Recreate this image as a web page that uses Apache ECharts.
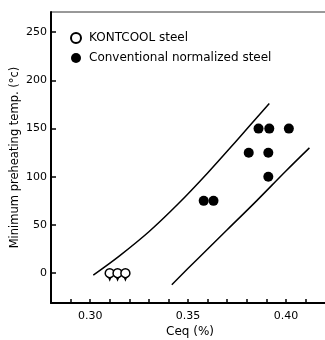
<!DOCTYPE html>
<html>
<head>
<meta charset="utf-8">
<script src="https://cdn.jsdelivr.net/npm/echarts@6/dist/echarts.min.js"></script>
<style>
html,body{margin:0;padding:0;background:#fff;}
#chart{width:325px;height:340px;}
</style>
</head>
<body>
<div id="chart"></div>
<script>
// ---- data ----
var kontcoolX = [0.310, 0.314, 0.318];
var kontcoolY = [0, 0, 0];
var kontcoolArrowY = [-9, -9, -9];
var conventionalX = [0.386, 0.3915, 0.4015, 0.381, 0.391, 0.391, 0.358, 0.363];
var conventionalY = [150, 150, 150, 125, 125, 100, 75, 75];
var upperBandX = [0.3016, 0.3150, 0.3300, 0.3450, 0.3600, 0.3750, 0.3915];
var upperBandY = [-2, 18, 43, 72, 104, 138, 176];
var lowerBandX = [0.3417, 0.3550, 0.3700, 0.3850, 0.4000, 0.4120];
var lowerBandY = [-12, 15, 45, 75, 106, 130];
var xTickValues = [0.30, 0.35, 0.40];
var xMinorTicks = [0.29, 0.30, 0.31, 0.32, 0.33, 0.34, 0.35, 0.36, 0.37, 0.38, 0.39, 0.40, 0.41];
var yTickValues = [0, 50, 100, 150, 200, 250];

function pairs(xs, ys) { return xs.map(function (x, i) { return [x, ys[i]]; }); }

var font = 'DejaVu Sans';
var chart = echarts.init(document.getElementById('chart'));
chart.setOption({
  animation: false,
  backgroundColor: '#fff',
  textStyle: { fontFamily: font, color: '#000' },
  grid: { left: 51, right: -4, top: 12, bottom: 37, show: true, borderColor: '#333', borderWidth: 1,
    containLabel: false, outerBoundsMode: 'none' },
  legend: {
    orient: 'vertical', left: 65, top: 27, itemGap: 8,
    itemWidth: 10, itemHeight: 10,
    textStyle: { fontFamily: font, fontSize: 12, color: '#000', padding: [0, 0, 0, 3] },
    data: ['KONTCOOL steel', 'Conventional normalized steel']
  },
  xAxis: {
    type: 'value', min: 0.28, max: 0.422,
    name: 'Ceq (%)', nameLocation: 'middle', nameGap: 23, nameMoveOverlap: false,
    nameTextStyle: { fontFamily: font, fontSize: 12, color: '#000' },
    axisLine: { show: true, onZero: false, lineStyle: { color: '#000', width: 2 } },
    axisTick: { show: true, inside: true, length: 4, customValues: xMinorTicks, lineStyle: { color: '#000', width: 1.5 } },
    axisLabel: { customValues: xTickValues, margin: 8, fontSize: 11, color: '#000', fontFamily: font,
      formatter: function (v) { return v.toFixed(2); } },
    splitLine: { show: false }
  },
  yAxis: {
    type: 'value', min: -31, max: 271,
    name: 'Minimum preheating temp. (°c)', nameLocation: 'middle', nameGap: 30, nameMoveOverlap: false,
    nameTextStyle: { fontFamily: font, fontSize: 11.5, color: '#000' },
    axisLine: { show: true, onZero: false, lineStyle: { color: '#000', width: 2 } },
    axisTick: { show: true, inside: true, length: 5, customValues: yTickValues, lineStyle: { color: '#000', width: 1.5 } },
    axisLabel: { customValues: yTickValues, margin: 4, fontSize: 11, color: '#000', fontFamily: font },
    splitLine: { show: false }
  },
  series: [{
    name: 'upper', type: 'line', smooth: 0.35, symbol: 'none',
    lineStyle: { color: '#000', width: 1.5 }, data: pairs(upperBandX, upperBandY), z: 1
  }, {
    name: 'lower', type: 'line', smooth: 0.35, symbol: 'none',
    lineStyle: { color: '#000', width: 1.5 }, data: pairs(lowerBandX, lowerBandY), z: 1
  }, {
    name: 'KONTCOOL arrows', type: 'scatter', symbol: 'arrow', symbolRotate: 180, symbolSize: [3, 5],
    itemStyle: { color: '#000', opacity: 1 }, data: pairs(kontcoolX, kontcoolArrowY), z: 2
  }, {
    name: 'KONTCOOL steel', type: 'scatter', symbol: 'circle', symbolSize: 9,
    itemStyle: { color: '#fff', borderColor: '#000', borderWidth: 1.5, opacity: 1 },
    data: pairs(kontcoolX, kontcoolY), z: 3
  }, {
    name: 'Conventional normalized steel', type: 'scatter', symbol: 'circle', symbolSize: 10,
    itemStyle: { color: '#000', opacity: 1 }, data: pairs(conventionalX, conventionalY), z: 3
  }]
});
</script>
</body>
</html>
